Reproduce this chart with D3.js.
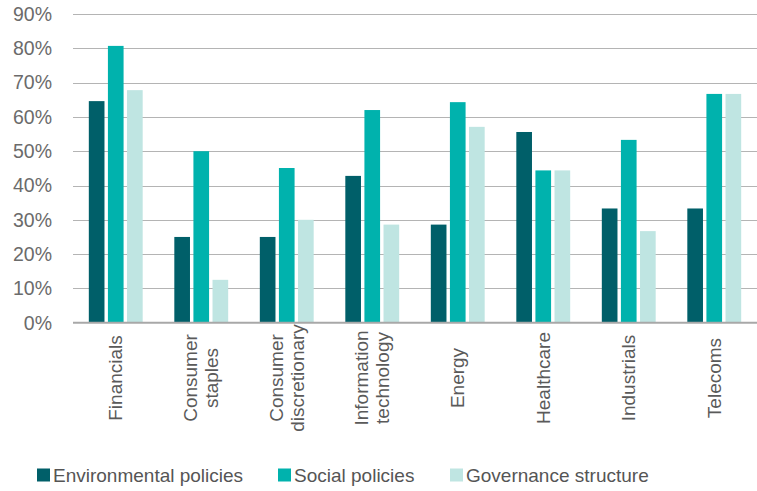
<!DOCTYPE html>
<html>
<head>
<meta charset="utf-8">
<script src="https://cdn.jsdelivr.net/npm/d3@7"></script>
<style>
  body { margin: 0; background: #fff; }
  svg { display: block; font-family: "Liberation Sans", Arial, sans-serif; }
</style>
</head>
<body>
<script>
// sectors, in chart order
const categories = [
  ["Financials"],
  ["Consumer", "staples"],
  ["Consumer", "discretionary"],
  ["Information", "technology"],
  ["Energy"],
  ["Healthcare"],
  ["Industrials"],
  ["Telecoms"]
];
const seriesNames = ["Environmental policies", "Social policies", "Governance structure"];
const environmental = [64.6, 25.0, 25.0, 42.8, 28.6, 55.6, 33.3, 33.3];
const social = [80.7, 50.0, 45.1, 62.0, 64.3, 44.4, 53.3, 66.7];
const governance = [67.8, 12.5, 30.0, 28.6, 57.1, 44.4, 26.7, 66.7];
const yTicks = [0, 10, 20, 30, 40, 50, 60, 70, 80, 90];

const colors = ["#005f69", "#00b2ad", "#bfe5e2"];

const width = 757, height = 491;
const svg = d3.select("body").append("svg")
  .attr("width", width).attr("height", height);

const x0 = d3.scaleBand()
  .domain(d3.range(categories.length))
  .range([73, 757])
  .paddingInner(0.37)
  .paddingOuter(0.185);

const x1 = d3.scaleBand()
  .domain(d3.range(seriesNames.length))
  .range([0, x0.bandwidth()])
  .paddingInner(0.18);

const y = d3.scaleLinear().domain([0, 90]).range([322.7, 14]);

// gridlines
svg.append("g")
  .selectAll("line")
  .data(yTicks.slice(1))
  .join("line")
  .attr("x1", 73).attr("x2", 757)
  .attr("y1", d => Math.round(y(d)) + 0.5)
  .attr("y2", d => Math.round(y(d)) + 0.5)
  .attr("stroke", "#b4b4b4")
  .attr("stroke-width", 1);

// y tick labels
svg.append("g")
  .selectAll("text")
  .data(yTicks)
  .join("text")
  .attr("x", 52)
  .attr("y", d => y(d))
  .attr("dy", "0.35em")
  .attr("text-anchor", "end")
  .attr("font-size", 19.5)
  .attr("fill", "#6b6b6b")
  .text(d => d + "%");

// bars
const series = [environmental, social, governance];
const group = svg.append("g")
  .selectAll("g")
  .data(categories)
  .join("g")
  .attr("transform", (d, i) => `translate(${x0(i)},0)`);

group.selectAll("rect")
  .data((d, i) => series.map((s, k) => ({ k, v: s[i] })))
  .join("rect")
  .attr("x", d => x1(d.k))
  .attr("width", x1.bandwidth())
  .attr("y", d => y(d.v))
  .attr("height", d => y(0) - y(d.v))
  .attr("fill", d => colors[d.k]);

// baseline
svg.append("line")
  .attr("x1", 73).attr("x2", 757)
  .attr("y1", y(0)).attr("y2", y(0))
  .attr("stroke", "#a8a8a8")
  .attr("stroke-width", 2);

// category labels, rotated
const labels = svg.append("g")
  .selectAll("text")
  .data(categories)
  .join("text")
  .attr("transform", (d, i) => `translate(${x0(i) + x0.bandwidth() / 2},378) rotate(-90)`)
  .attr("text-anchor", "middle")
  .attr("font-size", 19)
  .attr("fill", "#5a5a5a");

labels.selectAll("tspan")
  .data(d => d.map((t, j) => ({ t, j, n: d.length })))
  .join("tspan")
  .attr("x", 0)
  .attr("y", d => (d.j - (d.n - 1) / 2) * 21)
  .attr("dy", "0.35em")
  .text(d => d.t);

// legend
const legendX = [37, 278, 450];
const legend = svg.append("g")
  .selectAll("g")
  .data(seriesNames)
  .join("g")
  .attr("transform", (d, i) => `translate(${legendX[i]},475)`);

legend.append("rect")
  .attr("x", 0).attr("y", -6.5)
  .attr("width", 13).attr("height", 13)
  .attr("fill", (d, i) => colors[i]);

legend.append("text")
  .attr("x", 16)
  .attr("dy", "0.35em")
  .attr("font-size", 19)
  .attr("fill", "#555")
  .text(d => d);
</script>
</body>
</html>
